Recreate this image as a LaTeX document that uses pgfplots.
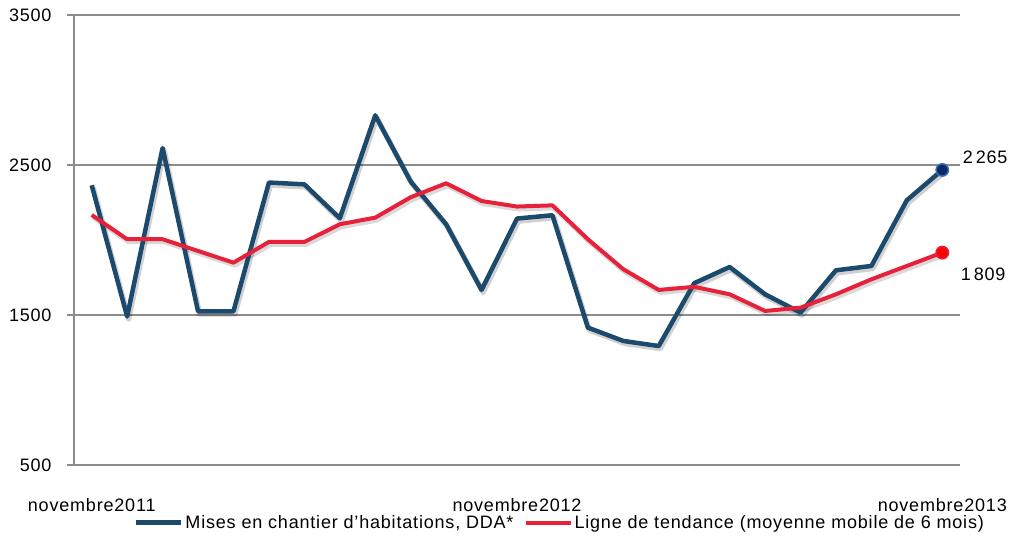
\documentclass[border=0pt]{standalone}
\usepackage{fontspec}
\setmainfont{Liberation Sans}[LetterSpace=4.5]
\usepackage{pgfplots}
\usepackage{pgfplotstable}
\pgfplotsset{compat=1.18}
\definecolor{bluel}{RGB}{27,74,108}
\definecolor{redl}{RGB}{232,33,58}
\definecolor{gridc}{RGB}{140,140,140}
\definecolor{bmark}{RGB}{12,40,105}
\definecolor{bmarko}{RGB}{60,110,175}
\pgfplotstableread{
x y
0 2365
1 1490
2 2613
3 1525
4 1525
5 2383
6 2371
7 2145
8 2831
9 2390
10 2105
11 1667
12 2143
13 2165
14 1416
15 1327
16 1293
17 1712
18 1820
19 1638
20 1516
21 1798
22 1827
23 2265
24 2467
}\blue
\pgfplotstableread{
x y
0 2167
1 2005
2 2005
3 1927
4 1849
5 1987
6 1987
7 2105
8 2149
9 2285
10 2378
11 2260
12 2223
13 2231
14 2005
15 1805
16 1667
17 1688
18 1638
19 1527
20 1549
21 1638
22 1738
23 1827
24 1916
}\red
\begin{document}
\begin{tikzpicture}
\begin{axis}[
  scale only axis,
  width=886bp, height=450bp,
  xmin=-0.5, xmax=24.5,
  ymin=500, ymax=3500,
  ytick={500,1500,2500,3500},
  xtick={0,12,24},
  xticklabels={novembre2011,novembre2012,novembre2013},
  axis x line*=bottom,
  axis y line*=left,
  axis line style={draw=gridc, line width=1.5bp},
  ymajorgrids,
  grid style={draw=gridc, line width=1.5bp},
  tick align=outside,
  major tick length=7bp,
  ytick style={draw=gridc, line width=1.5bp},
  xtick style={draw=none},
  /pgf/number format/assume math mode=true,
  /pgf/number format/1000 sep={},
  tick label style={font=\fontsize{18bp}{21bp}\selectfont, text=black},
  yticklabel style={xshift=-12bp},
  xticklabel style={anchor=center, yshift=-33bp},
  clip=false,
  legend columns=2,
  legend style={at={(0.5485,-0.128)}, anchor=center, draw=none, fill=none,
    font=\fontsize{18bp}{21bp}\selectfont,
    /tikz/every even column/.append style={column sep=8bp}},
  legend image code/.code={\draw[#1] (0bp,0bp) -- (45bp,0bp);},
]
\addplot[forget plot, black, opacity=0.18, line width=5.5bp, line join=round, transform canvas={xshift=1.5bp,yshift=-2.5bp}] table[x=x,y=y] {\blue};
\addplot[forget plot, black, opacity=0.15, line width=5bp, line join=round, transform canvas={xshift=1.5bp,yshift=-2.5bp}] table[x=x,y=y] {\red};
\addplot[bluel, line width=4.5bp, line join=round] table[x=x,y=y] {\blue};
\addlegendentry{Mises en chantier d'habitations, DDA*}
\addplot[redl, line width=4bp, line join=round] table[x=x,y=y] {\red};
\addlegendentry{Ligne de tendance (moyenne mobile de 6 mois)}
\addplot[forget plot, only marks, mark=*, mark size=6.2bp, mark options={fill=bmark, draw=bmarko, line width=1.5bp}] coordinates {(24,2467)};
\addplot[forget plot, only marks, mark=*, mark size=6.2bp, mark options={fill=red, draw=redl, line width=1.5bp}] coordinates {(24,1916)};
\node[anchor=west, font=\fontsize{18bp}{21bp}\selectfont, xshift=17bp, yshift=13bp] at (axis cs:24,2467) {2\,265};
\node[anchor=west, font=\fontsize{18bp}{21bp}\selectfont, xshift=15bp, yshift=-22bp] at (axis cs:24,1916) {1\,809};
\end{axis}
\pgfresetboundingbox
\path[use as bounding box] (-74bp,-76bp) rectangle (944bp,465bp);
\end{tikzpicture}
\end{document}
